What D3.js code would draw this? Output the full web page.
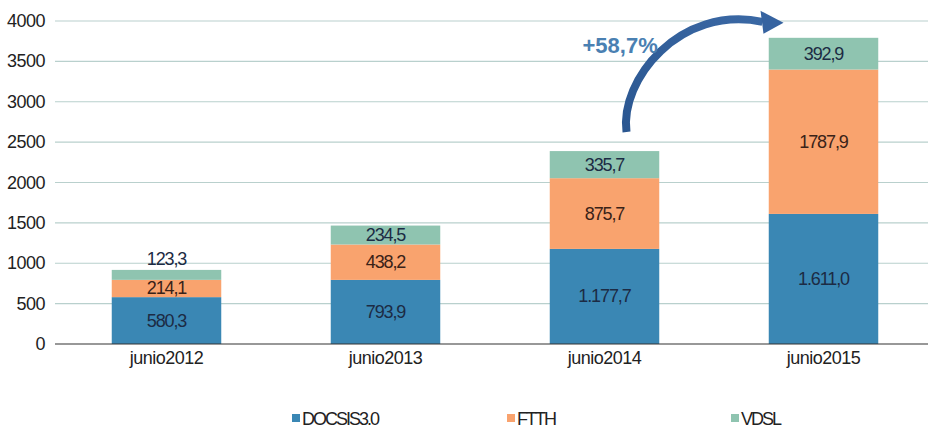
<!DOCTYPE html>
<html><head><meta charset="utf-8">
<script src="https://cdn.jsdelivr.net/npm/d3@7"></script>
<style>
body{margin:0;background:#fff;}
svg text{font-family:"Liberation Sans Narrow","Arial Narrow","Liberation Sans",sans-serif;}
</style></head>
<body><svg id="c" width="928" height="430"></svg>
<script>
const categories = ["junio2012","junio2013","junio2014","junio2015"];
const seriesNames = ["DOCSIS3.0","FTTH","VDSL"];
const docsis = [580.3, 793.9, 1177.7, 1611.0];
const ftth = [214.1, 438.2, 875.7, 1787.9];
const vdsl = [123.3, 234.5, 335.7, 392.9];
const docsisLabels = ["580,3","793,9","1.177,7","1.611,0"];
const ftthLabels = ["214,1","438,2","875,7","1787,9"];
const vdslLabels = ["123,3","234,5","335,7","392,9"];
const yTicks = [0,500,1000,1500,2000,2500,3000,3500,4000];
const growthLabel = "+58,7%";
const colors = ["#3a87b4","#f9a36e","#8fc4b0"];

const svg = d3.select("#c");
const x = d3.scaleBand().domain(categories).range([57,933]).paddingInner(0.5).paddingOuter(0.25);
const y = d3.scaleLinear().domain([0,4000]).range([344,21]);

// grid
svg.append("g").selectAll("line").data(yTicks.filter(d=>d>0)).join("line")
  .attr("x1",55).attr("x2",928).attr("y1",d=>y(d)).attr("y2",d=>y(d))
  .attr("stroke","#b9d0cd").attr("stroke-width",1.2);

// y labels
svg.append("g").selectAll("text").data(yTicks).join("text")
  .attr("x",45).attr("y",d=>y(d)+6).attr("text-anchor","end")
  .attr("font-size",18).style("letter-spacing","-0.5px").attr("fill","#222")
  .text(d=>d);

const rows = categories.map((c,i)=>({cat:c, DOCSIS:docsis[i], FTTH:ftth[i], VDSL:vdsl[i]}));
const stack = d3.stack().keys(["DOCSIS","FTTH","VDSL"])(rows);
const labels = [docsisLabels, ftthLabels, vdslLabels];

const g = svg.append("g");
stack.forEach((s,si)=>{
  g.selectAll(null).data(s).join("rect")
    .attr("x",d=>x(d.data.cat)).attr("width",x.bandwidth())
    .attr("y",d=>y(d[1])).attr("height",d=>y(d[0])-y(d[1]))
    .attr("fill",colors[si]);
});
// baseline
svg.append("line").attr("x1",55).attr("x2",928).attr("y1",y(0)).attr("y2",y(0)).attr("stroke","#333").attr("stroke-width",1.2);

stack.forEach((s,si)=>{
  g.selectAll(null).data(s).join("text")
    .attr("x",d=>x(d.data.cat)+x.bandwidth()/2)
    .attr("y",d=>{
      const h = y(d[0])-y(d[1]);
      if(h<14) return y(d[1])-5;
      return (y(d[0])+y(d[1]))/2+6;
    })
    .attr("text-anchor","middle").attr("font-size",18).style("letter-spacing","-1.1px")
    .attr("fill",si===1?"#3a2218":"#1c2b44")
    .text((d,i)=>labels[si][i]);
});

// x labels
svg.append("g").selectAll("text").data(categories).join("text")
  .attr("x",d=>x(d)+x.bandwidth()/2).attr("y",364).attr("text-anchor","middle")
  .attr("font-size",18).style("letter-spacing","-0.5px").attr("fill","#222").text(d=>d);

// legend
const lg = svg.append("g");
const lx = [292,507,731];
seriesNames.forEach((n,i)=>{
  lg.append("rect").attr("x",lx[i]).attr("y",414).attr("width",8).attr("height",8).attr("fill",colors[i]);
  lg.append("text").attr("x",lx[i]+10).attr("y",425).attr("font-size",18).style("letter-spacing","-2px").attr("fill","#222").text(n);
});

// arrow annotation
const t14 = y(docsis[2]+ftth[2]+vdsl[2]);
const t15 = y(docsis[3]+ftth[3]+vdsl[3]);
const x14 = x(categories[2])+x.bandwidth()/2;
const x15 = x(categories[3])+x.bandwidth()/2;
const defs = svg.append("defs");
const grad = defs.append("linearGradient").attr("id","ag").attr("x1","0").attr("y1","1").attr("x2","1").attr("y2","0");
grad.append("stop").attr("offset","0").attr("stop-color","#2a5690");
grad.append("stop").attr("offset","1").attr("stop-color","#3a68a4");
const sx = x14+22, sy = t14-19;
const ex = x15-61, ey = t15-16;
svg.append("path")
  .attr("d",`M${sx},${sy} C${sx-7},${sy-52} ${sx+53},${ey-17} ${ex},${ey}`)
  .attr("fill","none").attr("stroke","url(#ag)").attr("stroke-width",8).attr("stroke-linecap","butt");
svg.append("path")
  .attr("d",`M${ex-2},${ey-11} L${ex+21},${ey+1} L${ex+1},${ey+12} Z`)
  .attr("fill","#3663a0");
svg.append("text").attr("x",x14-22).attr("y",53)
  .style("font-family","'Liberation Sans',sans-serif")
  .attr("font-size",22).attr("font-weight","bold").attr("fill","#4a80b2").text(growthLabel);
</script></body></html>
